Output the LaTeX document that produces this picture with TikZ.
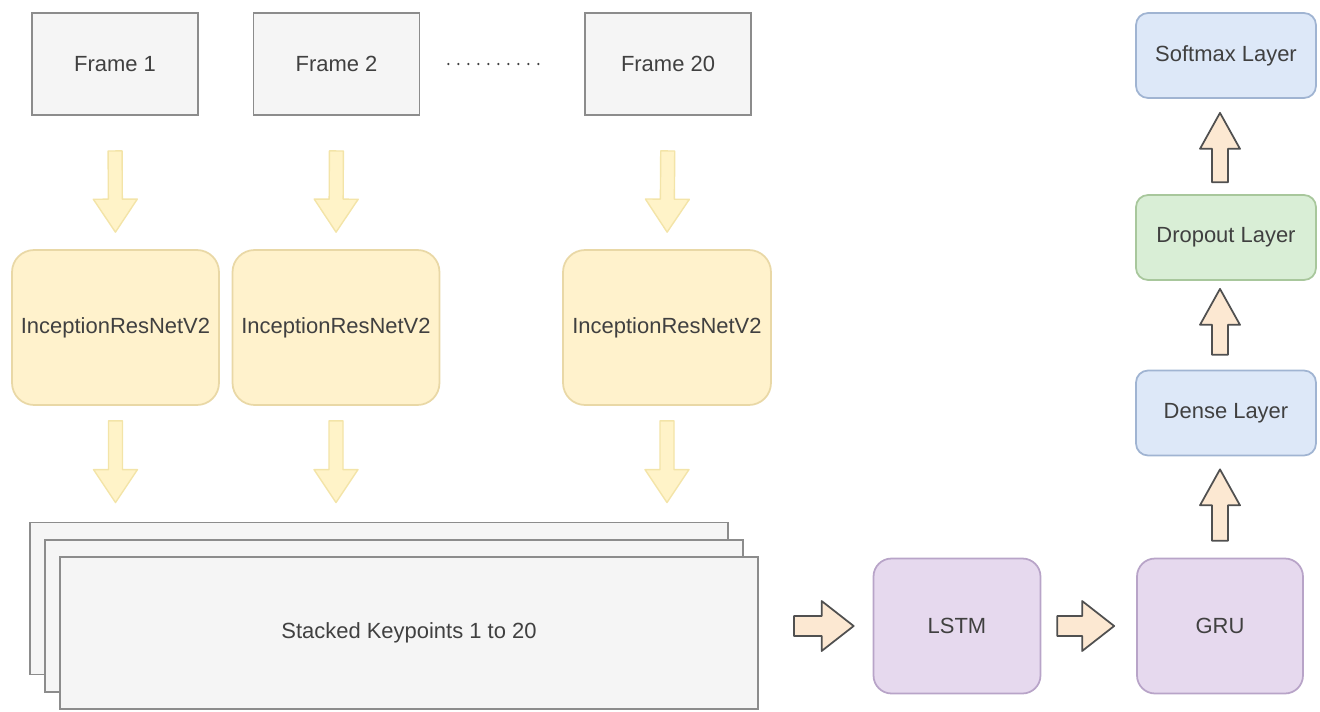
\documentclass[tikz,border=0pt]{standalone}
\usepackage{fontspec}
\setmainfont{Liberation Sans}
\usetikzlibrary{calc}
\definecolor{framefill}{HTML}{F5F5F5}
\definecolor{framedraw}{HTML}{8C8C8C}
\definecolor{incfill}{HTML}{FFF2CC}
\definecolor{incdraw}{HTML}{E9D8A6}
\definecolor{yarfill}{HTML}{FFF3C8}
\definecolor{yardraw}{HTML}{F3E4A8}
\definecolor{barfill}{HTML}{FCE8D2}
\definecolor{bardraw}{HTML}{505050}
\definecolor{rnnfill}{HTML}{E6D9EE}
\definecolor{rnndraw}{HTML}{B8A4C8}
\definecolor{bluefill}{HTML}{DDE8F8}
\definecolor{bluedraw}{HTML}{A0B4D2}
\definecolor{greenfill}{HTML}{D9EED6}
\definecolor{greendraw}{HTML}{A8C79C}
\definecolor{txt}{HTML}{404040}
\tikzset{
	lbl/.style={inner sep=0pt, text=txt, font=\fontsize{12.5}{15}\selectfont},
	framebox/.style={lbl, draw=framedraw, fill=framefill, line width=1.1pt, minimum width=3.32cm, minimum height=2.04cm},
	incbox/.style={lbl, draw=incdraw, fill=incfill, line width=1pt, rounded corners=0.44cm, minimum width=4.14cm, minimum height=3.1cm},
	stackbox/.style={lbl, draw=framedraw, fill=framefill, line width=1.1pt, minimum width=13.96cm, minimum height=3.04cm},
	rnnbox/.style={lbl, draw=rnndraw, fill=rnnfill, line width=1pt, rounded corners=0.36cm, minimum width=3.34cm, minimum height=2.7cm},
	layerbox/.style={lbl, line width=1pt, rounded corners=0.24cm, minimum width=3.6cm, minimum height=1.7cm},
	arrowsize/.code args={#1/#2/#3}{\def\ashaft{#1}\def\awing{#2}\def\ahead{#3}},
	block/.style 2 args={to path={
		($(\tikztostart)!#1!(\tikztotarget)$) coordinate (fa)
		($(\tikztotarget)!#2!(\tikztostart)$) coordinate (fb)
		($(fb)!\ahead!(fa)$) coordinate (fn)
		($(fa)!\ashaft!90:(fb)$) -- ($(fn)!\ashaft!-90:(fa)$) -- ($(fn)!\awing!-90:(fa)$) -- (fb)
		-- ($(fn)!\awing!90:(fa)$) -- ($(fn)!\ashaft!90:(fa)$) -- ($(fa)!\ashaft!-90:(fb)$) -- cycle}},
	yarrow/.style={draw=yardraw, fill=yarfill, line width=0.8pt, line join=round, arrowsize=0.14cm/0.44cm/0.66cm},
	harrow/.style={draw=bardraw, fill=barfill, line width=1pt, line join=round, arrowsize=0.2cm/0.5cm/0.64cm},
	varrow/.style={draw=bardraw, fill=barfill, line width=1pt, line join=round, arrowsize=0.16cm/0.4cm/0.72cm},
	dots/.style={draw=txt, line width=0.05cm, line cap=round, dash pattern=on 0pt off 0.2cm}
}
\begin{document}
\begin{tikzpicture}[x=0.02cm, y=-0.02cm]
		\useasboundingbox (0, 0) rectangle (1320, 711);
		\node [framebox] (f1) at (115, 64) {Frame 1};
		\node [framebox] (f2) at (336.5, 64) {Frame 2};
		\node [framebox] (f20) at (668, 64) {Frame 20};
		\node [incbox] (i1) at (115.5, 327.5) {InceptionResNetV2};
		\node [incbox] (i2) at (336, 327.5) {InceptionResNetV2};
		\node [incbox, minimum width=4.16cm] (i3) at (667, 327.5) {InceptionResNetV2};
		\node [stackbox] (stk3) at (379, 598.5) {};
		\node [stackbox] (stk2) at (394, 616) {};
		\node [stackbox] (stk) at (409, 633) {Stacked Keypoints 1 to 20};
		\node [rnnbox] (lstm) at (957, 626) {LSTM};
		\node [rnnbox, minimum width=3.32cm] (gru) at (1220, 626) {GRU};
		\node [layerbox, draw=bluedraw, fill=bluefill] (dense) at (1226, 413) {Dense Layer};
		\node [layerbox, draw=greendraw, fill=greenfill] (drop) at (1226, 237.5) {Dropout Layer};
		\node [layerbox, draw=bluedraw, fill=bluefill] (soft) at (1226, 55.5) {Softmax Layer};
		\draw [dots, shorten <=0.56cm, shorten >=0.74cm] (f2.east) -- (f20.west);
		\draw [yarrow, block={0.7cm}{0.34cm}] (f1.south) to (i1.north);
		\draw [yarrow, block={0.7cm}{0.34cm}] (f2.south) to (i2.north);
		\draw [yarrow, block={0.7cm}{0.34cm}] (f20.south) to (i3.north);
		\draw [yarrow, block={0.3cm}{0.38cm}] (i1.south) to (i1.south |- stk3.north);
		\draw [yarrow, block={0.3cm}{0.38cm}] (i2.south) to (i2.south |- stk3.north);
		\draw [yarrow, block={0.3cm}{0.38cm}] (i3.south) to (i3.south |- stk3.north);
		\draw [harrow, block={0.7cm}{0.38cm}] (stk.east |- lstm.west) to (lstm.west);
		\draw [harrow, block={0.32cm}{0.44cm}] (lstm.east) to (gru.west);
		\draw [varrow, block={0.34cm}{0.26cm}] (gru.north) to (gru.north |- dense.south);
		\draw [varrow, block={0.3cm}{0.16cm}] (gru.north |- dense.north) to (gru.north |- drop.south);
		\draw [varrow, block={0.24cm}{0.28cm}] (gru.north |- drop.north) to (gru.north |- soft.south);
\end{tikzpicture}
\end{document}
